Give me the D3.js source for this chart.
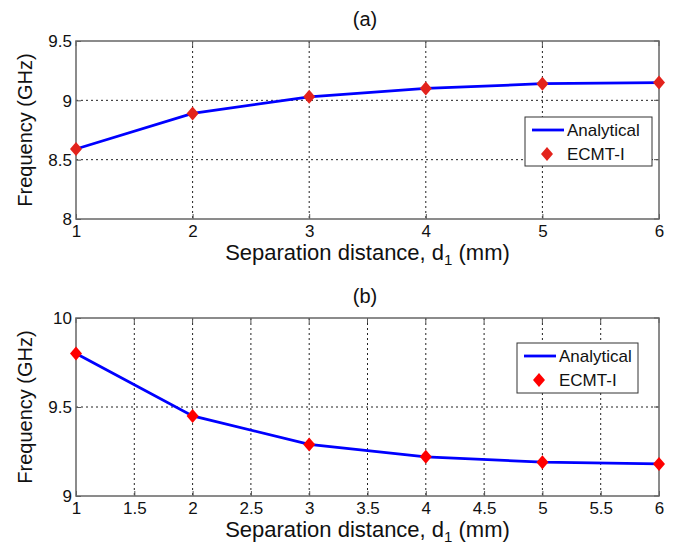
<!DOCTYPE html>
<html>
<head>
<meta charset="utf-8">
<script src="https://cdn.jsdelivr.net/npm/d3@7"></script>
<style>
  body { margin: 0; background: #fff; }
  text { font-family: Arial, "Liberation Sans", sans-serif; fill: #111; }
</style>
</head>
<body>
<svg id="chart" width="677" height="546"></svg>
<script>
// separation distance d1 (mm)
var distance = [1, 2, 3, 4, 5, 6];

// panel (a) frequencies (GHz)
var analyticalA = [8.59, 8.89, 9.03, 9.10, 9.14, 9.15];
var ecmtA = [8.59, 8.89, 9.03, 9.10, 9.14, 9.15];

// panel (b) frequencies (GHz)
var analyticalB = [9.80, 9.45, 9.29, 9.22, 9.19, 9.18];
var ecmtB = [9.80, 9.45, 9.29, 9.22, 9.19, 9.18];

var xTicksA = [1, 2, 3, 4, 5, 6];
var xTicksB = [1, 1.5, 2, 2.5, 3, 3.5, 4, 4.5, 5, 5.5, 6];
var yTicksA = [8, 8.5, 9, 9.5];
var yTicksB = [9, 9.5, 10];

var svg = d3.select("#chart");

var panels = [
  { title: "(a)", top: 41, yDomain: [8, 9.5], yTicks: yTicksA, xTicks: xTicksA,
    line: analyticalA, pts: ecmtA, marker: "#e3231c",
    legend: { x: 525, y: 117, w: 127, h: 49 } },
  { title: "(b)", top: 318, yDomain: [9, 10], yTicks: yTicksB, xTicks: xTicksB,
    line: analyticalB, pts: ecmtB, marker: "#ff0000",
    legend: { x: 517, y: 343, w: 121, h: 50 } }
];

var left = 76, right = 659, plotH = 178;

// diamond path centred on 0,0
function diamond(w, h) {
  return "M0," + (-h) + "L" + w + ",0L0," + h + "L" + (-w) + ",0Z";
}

panels.forEach(function(p) {
  var x = d3.scaleLinear().domain([1, 6]).range([left, right]);
  var y = d3.scaleLinear().domain(p.yDomain).range([p.top + plotH, p.top]);
  var g = svg.append("g");

  // grid
  g.selectAll("line.gx").data(p.xTicks.slice(1, -1)).enter().append("line")
    .attr("x1", function(d) { return x(d); }).attr("x2", function(d) { return x(d); })
    .attr("y1", p.top).attr("y2", p.top + plotH)
    .attr("stroke", "#222").attr("stroke-width", 1).attr("stroke-dasharray", "2,3");
  g.selectAll("line.gy").data(p.yTicks.slice(1, -1)).enter().append("line")
    .attr("y1", function(d) { return y(d); }).attr("y2", function(d) { return y(d); })
    .attr("x1", left).attr("x2", right)
    .attr("stroke", "#222").attr("stroke-width", 1).attr("stroke-dasharray", "2,3");

  // axes
  var xAxis = d3.axisBottom(x).tickValues(p.xTicks).tickSize(-5).tickPadding(5).tickFormat(d3.format("~g"));
  var yAxis = d3.axisLeft(y).tickValues(p.yTicks).tickSize(-5).tickPadding(4).tickFormat(d3.format("~g"));
  var xg = g.append("g").attr("transform", "translate(0," + (p.top + plotH) + ")").call(xAxis);
  var yg = g.append("g").attr("transform", "translate(" + left + ",0)").call(yAxis);
  [xg, yg].forEach(function(a) {
    a.select(".domain").remove();
    a.selectAll("line").attr("stroke", "#555");
    a.selectAll("text").style("font-size", "17px").attr("fill", "#111")
      .style("font-family", "Arial, 'Liberation Sans', sans-serif");
  });
  xg.selectAll("text").attr("dy", "0.75em");
  yg.selectAll("text").attr("dy", "0.35em");
  // top/right ticks like matlab box
  g.selectAll("line.tt").data(p.xTicks).enter().append("line")
    .attr("x1", function(d) { return x(d); }).attr("x2", function(d) { return x(d); })
    .attr("y1", p.top).attr("y2", p.top + 5).attr("stroke", "#555");
  g.selectAll("line.tr").data(p.yTicks).enter().append("line")
    .attr("y1", function(d) { return y(d); }).attr("y2", function(d) { return y(d); })
    .attr("x1", right).attr("x2", right - 5).attr("stroke", "#555");

  // frame
  g.append("rect").attr("x", left).attr("y", p.top).attr("width", right - left).attr("height", plotH)
    .attr("fill", "none").attr("stroke", "#666").attr("stroke-width", 1.5);

  // analytical line
  var line = d3.line().x(function(d, i) { return x(distance[i]); }).y(function(d) { return y(d); });
  g.append("path").datum(p.line).attr("d", line)
    .attr("fill", "none").attr("stroke", "#0000ff").attr("stroke-width", 2.8);

  // ECMT-I markers
  g.selectAll("path.m").data(p.pts).enter().append("path")
    .attr("transform", function(d, i) { return "translate(" + x(distance[i]) + "," + y(d) + ")"; })
    .attr("d", diamond(6, 7)).attr("fill", p.marker);

  // title
  g.append("text").attr("x", 365).attr("y", p.top - 15).attr("text-anchor", "middle")
    .style("font-size", "20px").text(p.title);

  // axis labels
  var xl = g.append("text").attr("x", (left + right) / 2).attr("y", p.top + plotH + 41)
    .attr("text-anchor", "middle").style("font-size", "22px");
  xl.append("tspan").text("Separation distance, d");
  xl.append("tspan").attr("dy", 5).style("font-size", "15px").text("1");
  xl.append("tspan").attr("dy", -5).text(" (mm)");

  g.append("text").attr("transform", "translate(32," + (p.top + plotH / 2) + ") rotate(-90)")
    .attr("text-anchor", "middle").style("font-size", "20px").text("Frequency (GHz)");

  // legend
  var L = p.legend;
  var lg = g.append("g");
  lg.append("rect").attr("x", L.x).attr("y", L.y).attr("width", L.w).attr("height", L.h)
    .attr("fill", "#fff").attr("stroke", "#333").attr("stroke-width", 1);
  lg.append("line").attr("x1", L.x + 7).attr("x2", L.x + 39)
    .attr("y1", L.y + 13).attr("y2", L.y + 13).attr("stroke", "#0000ff").attr("stroke-width", 2.8);
  lg.append("text").attr("x", L.x + 42).attr("y", L.y + 13).attr("dy", "0.35em")
    .style("font-size", "17px").text("Analytical");
  lg.append("path").attr("transform", "translate(" + (L.x + 22) + "," + (L.y + 37) + ")")
    .attr("d", diamond(6, 7)).attr("fill", p.marker);
  lg.append("text").attr("x", L.x + 42).attr("y", L.y + 37).attr("dy", "0.35em")
    .style("font-size", "17px").text("ECMT-I");
});
</script>
</body>
</html>
